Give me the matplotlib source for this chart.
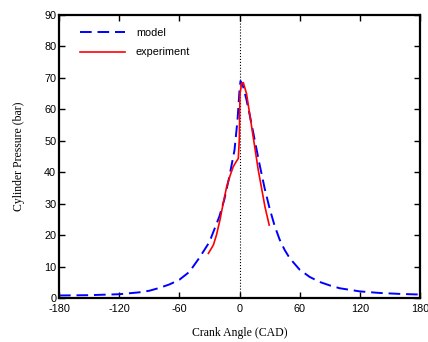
import matplotlib
matplotlib.use('Agg')
import matplotlib.pyplot as plt

# model curve (crank angle, pressure)
model_cad = [-180, -150, -120, -100, -90, -80, -70, -60, -50, -40, -30, -20, -15, -10, -5, -2,
             0, 1, 3, 7, 10, 15, 20, 25, 30, 35, 40, 45, 50, 60, 70, 80, 90, 100, 120, 140,
             160, 180]
model_p = [0.8, 0.9, 1.2, 1.8, 2.3, 3.2, 4.3, 5.8, 8.3, 12.8, 17.8, 26, 31.5, 38.8, 47, 56.5,
           66, 69, 68, 63, 58.5, 50.5, 42.5, 35, 28.5, 23, 18.6, 15.3, 12.7, 9, 6.7, 5.1, 4,
           3.1, 2.1, 1.6, 1.3, 1.1]

# experiment curve
exp_cad = [-31, -28, -26, -23, -19.5, -16, -12.8, -9.5, -6.2, -3, -1.2, -0.2, 0.5, 2.2, 3.8,
           7, 12.1, 18.7, 25.4, 29.6]
exp_p = [14.2, 15.8, 16.9, 20, 24.8, 30.5, 35.4, 38.8, 41.8, 43.5, 44.4, 50.3, 65, 68.3,
         68.5, 65, 54.5, 40.7, 29, 23.2]

xticks = [-180, -120, -60, 0, 60, 120, 180]
yticks = [0, 10, 20, 30, 40, 50, 60, 70, 80, 90]

plt.rcParams['font.family'] = ['Liberation Sans', 'DejaVu Sans']
plt.rcParams['axes.unicode_minus'] = False

fig = plt.figure(figsize=(4.28, 3.42), dpi=100)
ax = fig.add_axes([59 / 428, 44 / 342, 361 / 428, 283 / 342])

ax.axvline(0, color='black', linestyle=':', linewidth=0.8)
ax.plot(model_cad, model_p, color='#0000ff', linestyle=(0, (6, 3)), linewidth=1.4, label='model')
ax.plot(exp_cad, exp_p, color='#ff0000', linewidth=1.2, label='experiment')

ax.set_xlim(-180, 180)
ax.set_ylim(0, 90)
ax.set_xticks(xticks)
ax.set_yticks(yticks)
ax.tick_params(direction='in', top=True, right=True, labeltop=False, labelright=False,
               length=4, width=1, labelsize=7.8, pad=2)
ax.tick_params(axis='x', pad=4.5)
for s in ax.spines.values():
    s.set_linewidth(1.6)

ax.set_xlabel('Crank Angle (CAD)', family='Liberation Serif', fontsize=8.5, labelpad=9)
ax.set_ylabel('Cylinder Pressure (bar)', family='Liberation Serif', fontsize=8.5, labelpad=14)

leg = ax.legend(loc='upper left', frameon=False, fontsize=7.8, handlelength=4.2,
                handletextpad=1.0, labelspacing=0.9, bbox_to_anchor=(0.03, 0.99))

fig.savefig('out.png', dpi=100)
